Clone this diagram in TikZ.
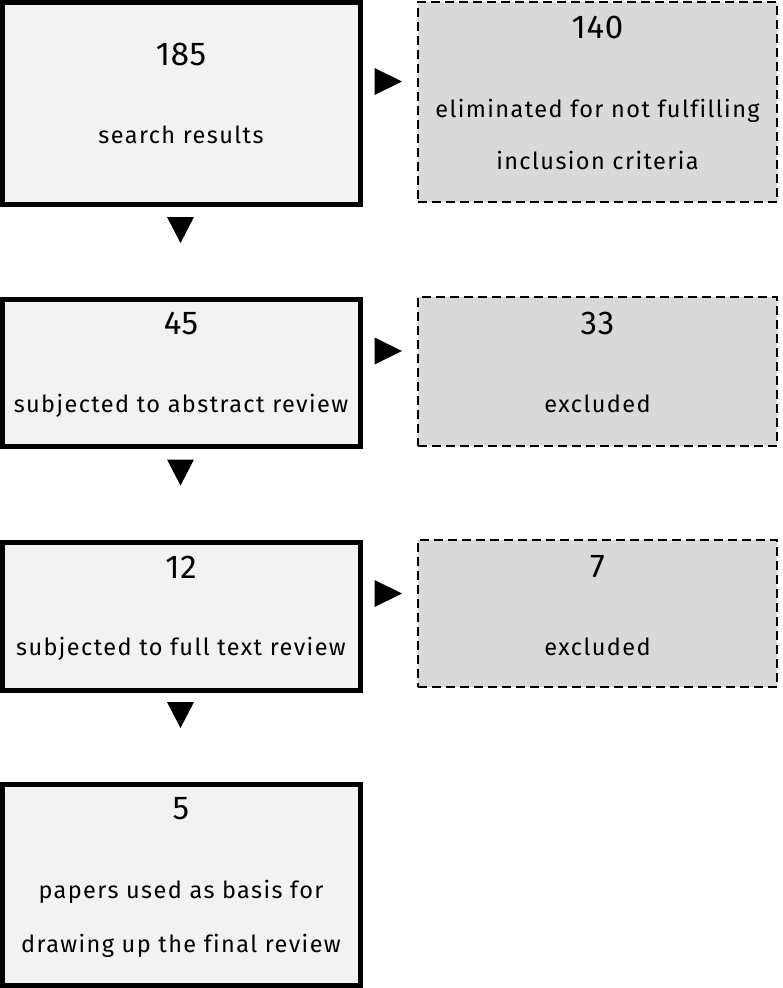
\documentclass[tikz,border=0pt]{standalone}
\usepackage{fontspec}
\setmainfont{Fira Sans}[LetterSpace=6,Ligatures=NoCommon]
\newfontfamily\numfont{Fira Sans}[LetterSpace=2]
\definecolor{boxfill}{HTML}{F2F2F2}
\definecolor{exfill}{HTML}{D9D9D9}
\begin{document}
\begin{tikzpicture}[x=1pt,y=-1pt,
  mainbox/.style={draw=black, line width=5pt, fill=boxfill, inner sep=0pt, outer sep=0pt, minimum width=358pt},
  exbox/.style={draw=black, line width=1.8pt, dash pattern=on 9pt off 5pt, fill=exfill, inner sep=0pt, outer sep=0pt, minimum width=359pt},
  numtxt/.style={anchor=base, inner sep=0pt, font=\numfont\fontsize{33}{33}\selectfont},
  labtxt/.style={anchor=base, inner sep=0pt, font=\fontsize{23.5}{23.5}\selectfont},
  rtri/.pic={\fill (-13.75,-13.5) -- (-13.75,13.5) -- (13.75,0) -- cycle;},
  dtri/.pic={\fill (-13.5,-13) -- (13.5,-13) -- (0,13) -- cycle;}]
\useasboundingbox (0,0) rectangle (783,988);
% main boxes
\node[mainbox, minimum height=202pt] (b1) at (181.5,103.5) {};
\node[mainbox, minimum height=147pt] (b2) at (181.5,373) {};
\node[mainbox, minimum height=148pt] (b3) at (181.5,616) {};
\node[mainbox, minimum height=201pt] (b4) at (181.5,885) {};
% exclusion boxes
\node[exbox, minimum height=200pt] (e1) at (597.5,102) {};
\node[exbox, minimum height=149pt] (e2) at (597.5,371.5) {};
\node[exbox, minimum height=147pt] (e3) at (597.5,613.5) {};
% texts
\node[numtxt] (t1n) at (181,65) {185};
\node[labtxt] (t1l) at (181,143) {search results};
\node[numtxt] (u1n) at (597.5,38) {140};
\node[labtxt] (u1a) at (597.5,117) {eliminated for not fulfilling};
\node[labtxt] (u1b) at (597.5,169) {inclusion criteria};
\node[numtxt] (t2n) at (181,334) {45};
\node[labtxt] (t2l) at (181,412) {subjected to abstract review};
\node[numtxt] (u2n) at (597.5,334) {33};
\node[labtxt] (u2l) at (597.5,412) {excluded};
\node[numtxt] (t3n) at (181,578) {12};
\node[labtxt] (t3l) at (181,655) {subjected to full text review};
\node[numtxt] (u3n) at (597.5,577) {7};
\node[labtxt] (u3l) at (597.5,655) {excluded};
\node[numtxt] (t4n) at (181,819) {5};
\node[labtxt] (t4a) at (181,898) {papers used as basis for};
\node[labtxt] (t4b) at (181,952) {drawing up the final review};
% arrowheads
\pic at (388.25,81.5) {rtri};
\pic at (388.25,351) {rtri};
\pic at (388.25,593.5) {rtri};
\pic at (180.5,230) {dtri};
\pic at (180.5,472.5) {dtri};
\pic at (180.5,715) {dtri};
\end{tikzpicture}
\end{document}
